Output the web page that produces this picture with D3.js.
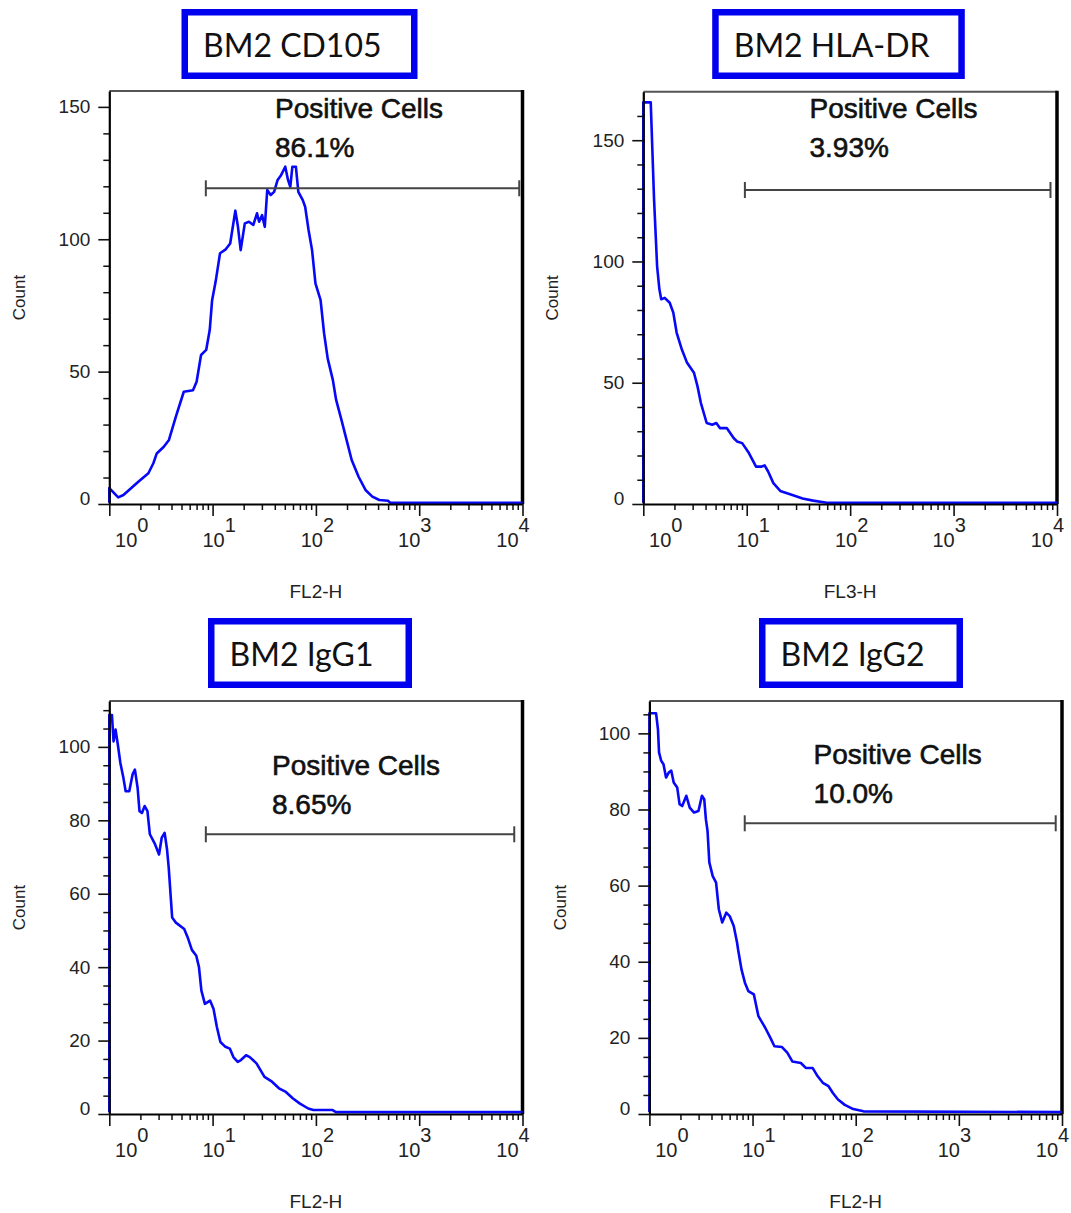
<!DOCTYPE html>
<html lang="en">
<head>
<meta charset="UTF-8">
<title>BM2 flow cytometry histograms</title>
<script src="https://d3js.org/d3.v7.min.js"></script>
<style>
  body { margin: 0; background: #fff; }
  svg { display: block; }
  .tick-label { font-family: "Liberation Sans", Arial, sans-serif; fill: #222; }
</style>
</head>
<body>
<svg id="chart" width="1071" height="1213"></svg>
<script>
// panel titles, channels and the gate result
const titles = ['BM2 CD105', 'BM2 HLA-DR', 'BM2 IgG1', 'BM2 IgG2'];
const channels = ['FL2-H', 'FL3-H', 'FL2-H', 'FL2-H'];
const positivePct = ['86.1%', '3.93%', '8.65%', '10.0%'];

// marker (gate) range on the fluorescence axis
const gateLow = [8.6, 9.6, 8.6, 8.4];
const gateHigh = [9300, 8650, 8320, 8690];

// count axes
const countMax = [156, 170, 112.5, 108.5];
const countTicks = [[0, 50, 100, 150], [0, 50, 100, 150], [0, 20, 40, 60, 80, 100], [0, 20, 40, 60, 80, 100]];
const countMinorStep = [10, 10, 5, 5];
const decades = [1, 10, 100, 1000, 10000];

// histogram traces: fluorescence value / count
const cd105X = [1.0, 1.0, 1.22, 1.37, 1.91, 2.39, 2.67, 2.88, 3.37, 3.78, 4.41, 5.26, 6.46, 7.0, 7.73, 8.67, 9.38,
  9.89, 10.7, 11.8, 13.4, 14.8, 16.6, 17.6, 18.7, 20.5, 22.5, 24.8, 26.9, 28.2, 30.1, 32.0, 33.8, 36.5, 39.4,
  42.6, 46.0, 50.5, 53.7, 56.5, 59.2, 64.0, 67.6, 74.6, 78.7, 84.9, 91.8, 99.0, 111, 120, 130, 146, 157, 177,
  198, 222, 259, 302, 352, 411, 499, 525, 10000];
const cd105Count = [0.5, 6, 2.5, 3.4, 8.4, 11.6, 15.4, 19.1, 21.6, 24.2, 33, 42.4, 43, 46.2, 56.3, 58.2, 65.7,
  77, 84, 94.7, 96.2, 98.4, 110.8, 104.7, 95.9, 106, 106.6, 105.4, 109.8, 106.6, 109.1, 104.7, 118.6, 116.7, 117.9,
  122.4, 124.2, 127.4, 122.4, 119.8, 127.4, 127.4, 117.9, 114.8, 112.3, 103.5, 95.9, 83.3, 77, 64.5, 55, 46.8, 39.3, 31.7,
  24.2, 16.6, 10.3, 5.3, 2.8, 1.5, 1.2, 0.5, 0.5];

const hladrX = [1.0, 1.0, 1.18, 1.27, 1.36, 1.43, 1.49, 1.61, 1.80, 1.95, 2.10, 2.36, 2.65, 3.09, 3.34, 3.60,
  4.10, 4.64, 5.08, 5.50, 6.41, 7.47, 8.05, 9.04, 10.5, 12.3, 13.8, 14.9, 16.1, 18.1, 21.1, 27.6, 34.7, 43.8,
  59.5, 10000];
const hladrCount = [0.5, 165.6, 165.6, 125.8, 98, 88.6, 84.4, 85, 83, 78.9, 70.7, 63.7, 58.2, 54.1, 48.6, 41.7,
  33.4, 32.7, 33.4, 31.3, 31.3, 27.2, 25.8, 25.1, 21, 15.4, 15.4, 15.9, 13.4, 8.6, 5.4, 3.7, 2.3, 1.4,
  0.5, 0.5];

const igg1X = [1.0, 1.0, 1.06, 1.10, 1.15, 1.21, 1.28, 1.37, 1.44, 1.56, 1.68, 1.77, 1.88, 1.96, 2.07, 2.20,
  2.34, 2.47, 2.77, 3.03, 3.22, 3.43, 3.62, 3.76, 4.06, 4.38, 5.31, 5.74, 6.3, 6.95, 7.38, 7.79, 8.42, 9.44,
  10.2, 11.0, 11.9, 13.3, 14.7, 15.9, 17.5, 18.8, 21.1, 22.9, 26.6, 31.8, 37.6, 43.9, 51.2, 59.6, 69.5, 84.2,
  94.6, 144, 156, 10000];
const igg1Count = [0.5, 108.7, 108.7, 101.5, 104.7, 100.6, 95.6, 91.5, 87.9, 87.9, 92.5, 93.8, 88.8, 82.5, 82, 83.9,
  82.5, 76.2, 73.5, 70.7, 75.3, 76.6, 72.1, 67.1, 53.5, 52.2, 50.4, 48.1, 44.7, 43.1, 40, 33.6, 30, 30.9,
  28.7, 23.7, 19.6, 18.3, 17.8, 15.5, 14.2, 14.7, 16, 15.5, 13.8, 10.1, 8.8, 7, 6, 4.3, 2.9, 1.5,
  1.1, 1.1, 0.5, 0.5];

const igg2X = [1.0, 1.0, 1.16, 1.21, 1.24, 1.30, 1.37, 1.45, 1.54, 1.63, 1.72, 1.86, 1.96, 2.08, 2.28, 2.46,
  2.71, 2.99, 3.23, 3.40, 3.53, 3.66, 3.81, 4.11, 4.43, 4.71, 5.08, 5.56, 6.00, 6.57, 7.08, 7.24, 7.81, 8.43,
  9.09, 10.3, 11.4, 13.3, 14.9, 16.3, 19.3, 21.7, 24.3, 29.4, 32.8, 38.2, 42.8, 48.0, 54.5, 60.1, 67.3, 78.4,
  94.6, 119, 10000];
const igg2Count = [0.5, 105.3, 105.3, 101.1, 95, 92.8, 91.9, 88.4, 89.7, 90.2, 87.1, 85.8, 81.4, 80.9, 83.6, 80.5,
  79.2, 79.6, 83.6, 82.7, 77.4, 74.4, 66.1, 62.5, 60.8, 53.8, 50.3, 52.9, 52, 49.4, 45, 43.2, 38, 34.5,
  32.3, 31.4, 25.7, 22.6, 20, 17.8, 17.6, 16.1, 13.8, 13.4, 12.1, 12.1, 9.9, 8.2, 7.3, 5.5, 3.8, 2.4,
  1.3, 0.7, 0.5];

const traces = [[cd105X, cd105Count], [hladrX, hladrCount], [igg1X, igg1Count], [igg2X, igg2Count]];

// page layout (pixels)
const panels = [
  { x0: 109.3, x1: 522.5, y0: 91, y1: 504, box: [181.5, 9, 236, 70], labelX: 275, labelY: 118, gateY: 188.3, countX: 19.5 },
  { x0: 643.3, x1: 1057, y0: 91.7, y1: 504, box: [712.2, 9, 252.6, 70], labelX: 809.5, labelY: 118, gateY: 190, countX: 552.4 },
  { x0: 109.3, x1: 522.5, y0: 701, y1: 1114, box: [208, 618, 204, 70], labelX: 272, labelY: 775, gateY: 834.3, countX: 19.5 },
  { x0: 649.4, x1: 1062, y0: 701, y1: 1114, box: [759, 618, 204, 70], labelX: 813.6, labelY: 764, gateY: 823.3, countX: 560.3 }
];
// decade label nudges, as the cytometry software lays them out
const decadeLabelShift = [22, 6, 1, -5, -10];

const svg = d3.select('#chart');
const sans = '"Liberation Sans", Arial, sans-serif';

panels.forEach((p, i) => {
  const x = d3.scaleLog().domain([1, 10000]).range([p.x0, p.x1]);
  const y = d3.scaleLinear().domain([0, countMax[i]]).range([p.y1, p.y0]);
  const g = svg.append('g');

  // title box
  const bw = 6.5;
  g.append('rect')
    .attr('x', p.box[0] + bw / 2).attr('y', p.box[1] + bw / 2)
    .attr('width', p.box[2] - bw).attr('height', p.box[3] - bw)
    .attr('fill', '#fff').attr('stroke', '#0000ee').attr('stroke-width', bw);
  g.append('text')
    .attr('x', p.box[0] + 21.5).attr('y', p.box[1] + 48)
    .attr('font-family', 'Lato, "Open Sans", sans-serif').attr('font-size', 32).attr('fill', '#111')
    .text(titles[i]);

  // frame: thin grey top, heavy black right side
  g.append('line').attr('x1', p.x0).attr('x2', p.x1).attr('y1', p.y0).attr('y2', p.y0)
    .attr('stroke', '#555').attr('stroke-width', 2);
  g.append('line').attr('x1', p.x1).attr('x2', p.x1).attr('y1', p.y0 - 1).attr('y2', p.y1)
    .attr('stroke', '#000').attr('stroke-width', 3.5);

  // histogram
  const pts = traces[i][0].map((v, k) => [v, traces[i][1][k]]);
  g.append('path').datum(pts)
    .attr('fill', 'none').attr('stroke', '#0808f8').attr('stroke-width', 2.6)
    .attr('stroke-linejoin', 'round')
    .attr('d', d3.line().x(d => x(d[0])).y(d => y(d[1])));

  // y axis
  const minorY = d3.range(0, countMax[i], countMinorStep[i]).filter(v => !countTicks[i].includes(v));
  g.append('g').attr('transform', `translate(${p.x0},0)`)
    .call(d3.axisLeft(y).tickValues(minorY).tickSize(6).tickFormat(''))
    .call(s => s.select('.domain').remove())
    .selectAll('line').attr('stroke', '#111').attr('stroke-width', 1.5);
  const ya = g.append('g').attr('transform', `translate(${p.x0},0)`)
    .call(d3.axisLeft(y).tickValues(countTicks[i]).tickSize(11).tickPadding(8).tickSizeOuter(0));
  ya.select('.domain').attr('stroke', '#000').attr('stroke-width', 2.2);
  ya.selectAll('.tick line').attr('stroke', '#111').attr('stroke-width', 1.6);
  ya.selectAll('.tick text').attr('class', 'tick-label').attr('font-size', 19)
    .attr('font-family', sans);
  ya.selectAll('.tick text').filter(d => d === 0).attr('y', -6);

  // x axis (log decades)
  const minorX = decades.slice(0, 4).flatMap(dv => d3.range(2, 10).map(m => m * dv));
  g.append('g').attr('transform', `translate(0,${p.y1})`)
    .call(d3.axisBottom(x).tickValues(minorX).tickSize(6).tickFormat(''))
    .call(s => s.select('.domain').remove())
    .selectAll('line').attr('stroke', '#111').attr('stroke-width', 1.5);
  const xa = g.append('g').attr('transform', `translate(0,${p.y1})`)
    .call(d3.axisBottom(x).tickValues(decades).tickSize(12).tickSizeOuter(0).tickFormat(''));
  xa.select('.domain').attr('stroke', '#000').attr('stroke-width', 2.2);
  xa.selectAll('.tick line').attr('stroke', '#111').attr('stroke-width', 1.6);
  xa.selectAll('.tick text').each(function (d, k) {
    const t = d3.select(this)
      .attr('class', 'tick-label').attr('font-size', 20).attr('font-family', sans)
      .attr('y', 43).attr('dy', null).attr('x', decadeLabelShift[k]);
    t.append('tspan').text('10');
    t.append('tspan').attr('dy', -15).text(Math.round(Math.log10(d)));
  });

  // gate marker
  const gx0 = x(gateLow[i]), gx1 = x(gateHigh[i]);
  const gate = g.append('g').attr('stroke', '#444').attr('stroke-width', 2);
  gate.append('line').attr('x1', gx0).attr('x2', gx1).attr('y1', p.gateY).attr('y2', p.gateY);
  gate.append('line').attr('x1', gx0).attr('x2', gx0).attr('y1', p.gateY - 8).attr('y2', p.gateY + 8);
  gate.append('line').attr('x1', gx1).attr('x2', gx1).attr('y1', p.gateY - 8).attr('y2', p.gateY + 8);

  // gate annotation
  const ann = g.append('g').attr('font-family', sans).attr('font-size', 28)
    .attr('fill', '#111').attr('stroke', '#111').attr('stroke-width', 0.6);
  ann.append('text').attr('x', p.labelX).attr('y', p.labelY).text('Positive Cells');
  ann.append('text').attr('x', p.labelX).attr('y', p.labelY + 38.5).text(positivePct[i]);

  // axis titles
  g.append('text')
    .attr('transform', `translate(${p.countX},${(p.y0 + p.y1) / 2}) rotate(-90)`)
    .attr('text-anchor', 'middle').attr('dy', '0.35em')
    .attr('font-family', sans).attr('font-size', 17).attr('fill', '#222')
    .text('Count');
  g.append('text')
    .attr('x', (p.x0 + p.x1) / 2).attr('y', p.y1 + 94)
    .attr('text-anchor', 'middle')
    .attr('font-family', sans).attr('font-size', 19).attr('fill', '#222')
    .text(channels[i]);
});
</script>
</body>
</html>
